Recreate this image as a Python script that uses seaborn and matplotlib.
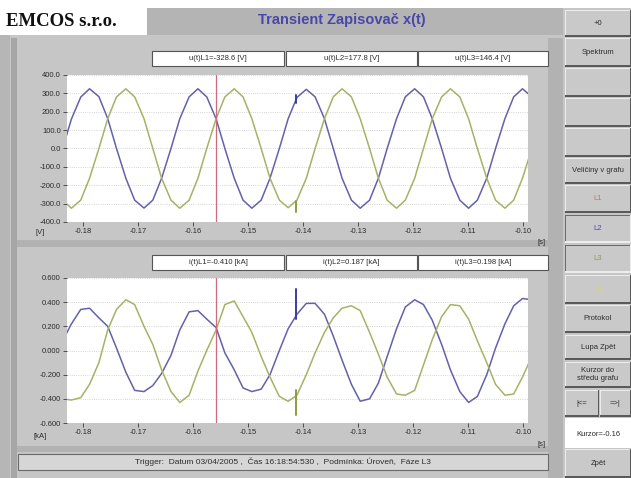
import matplotlib
matplotlib.use("Agg")
import matplotlib.pyplot as plt
from matplotlib.patches import Rectangle
from matplotlib.ticker import FormatStrFormatter
import pandas as pd
import seaborn as sns

W, H = 631, 478

# sample times [s]
t = [-0.1837, -0.1821, -0.1804, -0.1788, -0.1771, -0.1755, -0.1739, -0.1722, -0.1706, -0.1689, -0.1673, -0.1657,
     -0.1640, -0.1624, -0.1607, -0.1591, -0.1575, -0.1558, -0.1542, -0.1525, -0.1509, -0.1493, -0.1476, -0.1460,
     -0.1443, -0.1427, -0.1411, -0.1394, -0.1378, -0.1361, -0.1345, -0.1329, -0.1312, -0.1296, -0.1279, -0.1263,
     -0.1247, -0.1230, -0.1214, -0.1197, -0.1181, -0.1165, -0.1148, -0.1132, -0.1115, -0.1099, -0.1083, -0.1066,
     -0.1050, -0.1033, -0.1017, -0.1001, -0.0984]

# voltage [V]
u_l2 = [0, 160, 280, 325, 282, 163, 0, -162, -281, -324, -281, -162,
        0, 162, 281, 325, 281, 162, 0, -162, -281, -325, -281, -162,
        0, 162, 278, 322, 281, 162, 0, -162, -281, -325, -281, -162,
        0, 162, 281, 325, 281, 162, 0, -162, -281, -325, -281, -162,
        0, 162, 281, 325, 281]
u_l3 = [-281, -325, -281, -162, 0, 162, 281, 325, 281, 162, 0, -162,
        -281, -325, -281, -162, 0, 162, 281, 325, 281, 162, 0, -162,
        -281, -322, -281, -162, 0, 162, 281, 325, 281, 162, 0, -162,
        -281, -325, -281, -162, 0, 162, 281, 325, 281, 162, 0, -162,
        -281, -325, -281, -162, 0]

# current [kA]
i_l2 = [0.08, 0.22, 0.34, 0.35, 0.27, 0.20, 0.02, -0.18, -0.33, -0.34, -0.29, -0.19,
        -0.04, 0.17, 0.32, 0.33, 0.26, 0.19, -0.02, -0.16, -0.31, -0.34, -0.32, -0.20,
        0.00, 0.18, 0.30, 0.39, 0.39, 0.30, 0.12, -0.08, -0.28, -0.42, -0.40, -0.27,
        -0.05, 0.18, 0.36, 0.42, 0.38, 0.25, 0.05, -0.16, -0.34, -0.43, -0.38, -0.20,
        0.02, 0.22, 0.37, 0.43, 0.42]
i_l3 = [-0.40, -0.41, -0.39, -0.28, -0.10, 0.17, 0.34, 0.42, 0.38, 0.20, 0.05, -0.16,
        -0.34, -0.43, -0.37, -0.17, 0.00, 0.17, 0.38, 0.41, 0.28, 0.15, -0.05, -0.22,
        -0.38, -0.42, -0.37, -0.20, -0.02, 0.15, 0.27, 0.35, 0.37, 0.33, 0.15, -0.03,
        -0.22, -0.36, -0.37, -0.33, -0.12, 0.09, 0.28, 0.38, 0.37, 0.26, 0.08, -0.10,
        -0.28, -0.37, -0.36, -0.22, -0.05]

# trigger disturbance
spike_t = [-0.1413, -0.1413]
u_spike_l2 = [248, 290]
u_spike_l3 = [-285, -345]
i_spike_l2 = [0.51, 0.26]
i_spike_l3 = [-0.33, -0.53]

cursor_t = -0.1558

t_ticks = [-0.18, -0.17, -0.16, -0.15, -0.14, -0.13, -0.12, -0.11, -0.10]
u_ticks = [-400, -300, -200, -100, 0, 100, 200, 300, 400]
i_ticks = [-0.6, -0.4, -0.2, 0.0, 0.2, 0.4, 0.6]

u_labels = ["u(t)L1=-328.6 [V]", "u(t)L2=177.8 [V]", "u(t)L3=146.4 [V]"]
i_labels = ["i(t)L1=-0.410 [kA]", "i(t)L2=0.187 [kA]", "i(t)L3=0.198 [kA]"]
status = "Trigger:  Datum 03/04/2005 ,  Čas 16:18:54:530 ,  Podmínka: Úroveň,  Fáze L3"

BLUE = "#6262aa"
GREEN = "#a6b266"
CURSOR = "#cc6c7e"

sns.set_style("white")
plt.rcParams["font.family"] = ["Liberation Sans", "DejaVu Sans"]

fig = plt.figure(figsize=(W / 100, H / 100), dpi=100)
fig.patch.set_facecolor("#c6c6c6")


def box(x0, y0, x1, y1, fc, ec="none", lw=0):
    fig.add_artist(Rectangle((x0 / W, 1 - y1 / H), (x1 - x0) / W, (y1 - y0) / H,
                             transform=fig.transFigure, fc=fc, ec=ec, lw=lw))


def txt(x, y, s, **kw):
    kw.setdefault("ha", "center")
    kw.setdefault("va", "center")
    kw.setdefault("fontsize", 5.5)
    kw.setdefault("color", "#2c2c2c")
    fig.text(x / W, 1 - y / H, s, **kw)


def button(x0, y0, x1, y1, label="", color="#2c2c2c", sunken=False, fc="#c9c9c9"):
    box(x0, y0, x1, y1, fc)
    hi, lo = ("#6a6a6a", "#ececec") if sunken else ("#ececec", "#5a5a5a")
    box(x0, y0, x1, y0 + 1, hi)
    box(x0, y0, x0 + 1, y1, hi)
    box(x0, y1 - 2, x1, y1, lo)
    box(x1 - 1, y0, x1, y1, lo)
    if label:
        txt((x0 + x1) / 2, (y0 + y1) / 2, label, color=color)


# frame and title bar
box(0, 0, W, 8, "white")
box(147, 8, 563, 35, "#b4b4b4")
box(0, 8, 147, 35, "white")
txt(61, 21, "EMCOS s.r.o.", family="Liberation Serif", fontweight="bold", fontsize=13.5, color="#111111")
txt(342, 20, "Transient Zapisovač x(t)", fontweight="bold", fontsize=10.5, color="#4848a8")
box(0, 35, 10, H, "#b6b6b6")
box(11, 38, 17, H, "#a6a6a6")
box(548, 38, 563, H, "#b2b2b2")
box(17, 240, 548, 247, "#b2b2b2")
box(17, 446, 548, 452, "#b2b2b2")

# right button column
btns = [("+0", 10, 37), ("Spektrum", 38, 67), ("", 68, 97), ("", 98, 127), ("", 128, 157),
        ("Veličiny v grafu", 158, 184)]
for lab, y0, y1 in btns:
    button(565, y0, W, y1, lab)
button(565, 185, W, 213, "L1", color="#c87a50")
button(565, 215, W, 243, "L2", color="#4c4cb0", sunken=True)
button(565, 245, W, 273, "L3", color="#8ea04c", sunken=True)
button(565, 275, W, 304, "N", color="#d8d880")
button(565, 305, W, 333, "Protokol")
button(565, 335, W, 360, "Lupa Zpět")
button(565, 362, W, 388, "Kurzor do\nstředu grafu")
button(565, 390, 599, 417, "|<=")
button(600, 390, W, 417, "=>|")
box(565, 418, W, 448, "white")
txt(598, 434, "Kurzor=-0.16")
button(565, 449, W, H, "Zpět")

# value boxes
for labels, y0 in [(u_labels, 51), (i_labels, 255)]:
    for (x0, x1), lab in zip([(152, 284), (286, 417), (418, 548)], labels):
        box(x0, y0, x1, y0 + 15, "white", ec="#555555", lw=0.8)
        txt((x0 + x1) / 2, y0 + 7.5, lab)

# status bar
box(18, 454, 548, 470, "#d6d6d6", ec="#6a6a6a", lw=0.8)
txt(283, 462, status, fontsize=6)


def make_axes(y0, y1):
    ax = fig.add_axes([67 / W, 1 - y1 / H, (528 - 67) / W, (y1 - y0) / H])
    ax.set_facecolor("white")
    for s in ax.spines.values():
        s.set_visible(False)
    ax.tick_params(labelsize=5.5, labelcolor="#2c2c2c", color="#3a3a3a",
                   length=3, width=0.6, pad=1.5, left=True, bottom=True)
    ax.grid(axis="y", linestyle=":", color="#c8c8c8", lw=0.6)
    return ax


def draw(ax, l2, l3, s2, s3):
    df = pd.DataFrame({"t": t, "L2": l2, "L3": l3}).melt(id_vars="t", var_name="phase", value_name="v")
    sns.lineplot(data=df, x="t", y="v", hue="phase", palette={"L2": BLUE, "L3": GREEN},
                 estimator=None, sort=False, legend=False, lw=1.1, ax=ax)
    sns.lineplot(x=spike_t, y=s2, color="#3c3ca2", lw=1.4, estimator=None, sort=False, ax=ax)
    sns.lineplot(x=spike_t, y=s3, color="#8a9c40", lw=1.4, estimator=None, sort=False, ax=ax)
    ax.axvline(cursor_t, color=CURSOR, lw=0.9)
    ax.set_xlim(-0.1829, -0.0991)
    ax.set_xticks(t_ticks)
    ax.xaxis.set_major_formatter(FormatStrFormatter("%.2f"))
    ax.set_xlabel("")
    ax.set_ylabel("")


ax1 = make_axes(75, 222)
draw(ax1, u_l2, u_l3, u_spike_l2, u_spike_l3)
ax1.set_ylim(-400, 400)
ax1.set_yticks(u_ticks)
ax1.yaxis.set_major_formatter(FormatStrFormatter("%.1f"))
txt(40, 233, "[V]")
txt(542, 242, "[s]")

ax2 = make_axes(278, 423)
draw(ax2, i_l2, i_l3, i_spike_l2, i_spike_l3)
ax2.set_ylim(-0.6, 0.6)
ax2.set_yticks(i_ticks)
ax2.yaxis.set_major_formatter(FormatStrFormatter("%.3f"))
txt(40, 436, "[kA]")
txt(542, 444, "[s]")

fig.savefig("out.png", dpi=100, facecolor=fig.get_facecolor())
